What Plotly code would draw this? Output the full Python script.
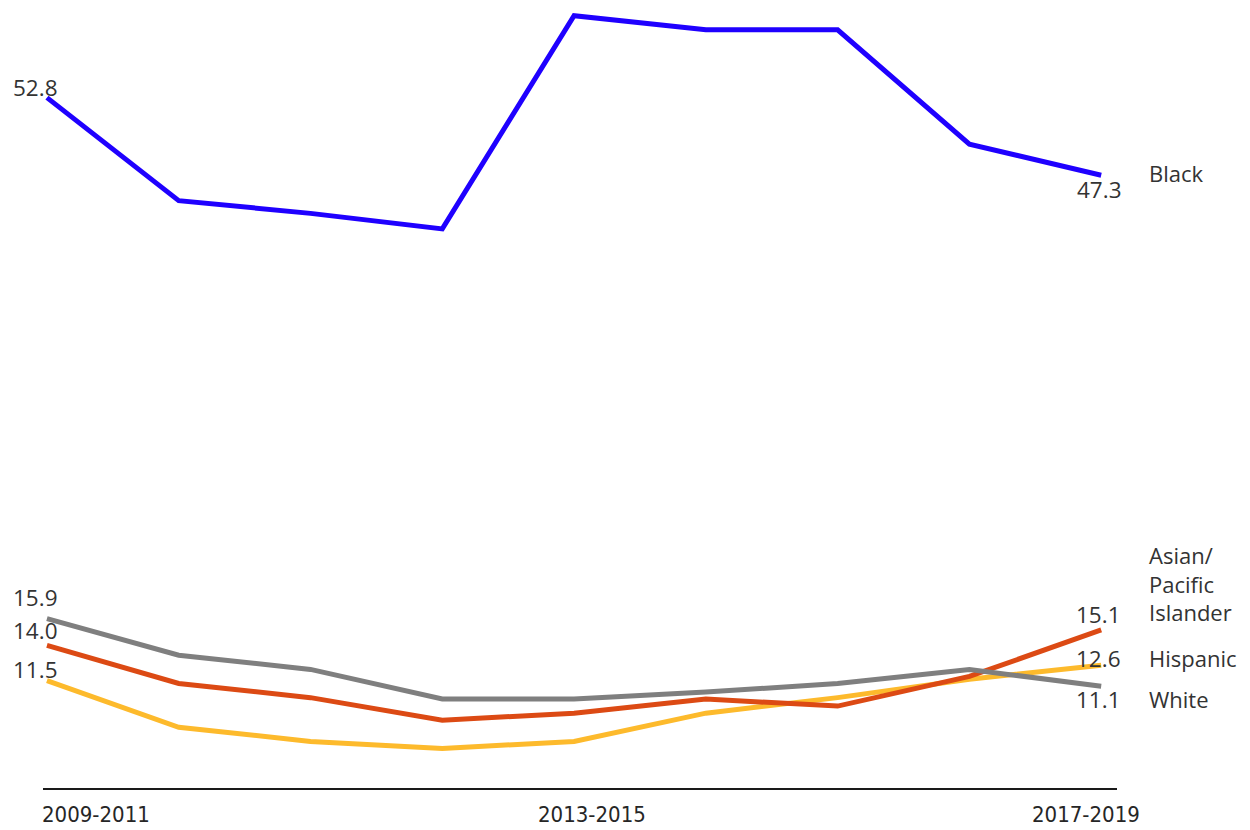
import plotly.graph_objects as go

periods = ["2009-2011", "2010-2012", "2011-2013", "2012-2014", "2013-2015",
           "2014-2016", "2015-2017", "2016-2018", "2017-2019"]
tick_labels = ["2009-2011", "2013-2015", "2017-2019"]

black = [52.8, 45.5, 44.6, 43.5, 58.6, 57.6, 57.6, 49.5, 47.3]
asian_pi = [14.0, 11.3, 10.3, 8.7, 9.2, 10.2, 9.7, 11.8, 15.1]
hispanic = [11.5, 8.2, 7.2, 6.7, 7.2, 9.2, 10.3, 11.6, 12.6]
white = [15.9, 13.3, 12.3, 10.2, 10.2, 10.7, 11.3, 12.3, 11.1]

series = [
    ("Black", black, "#1f00ff"),
    ("Asian/<br>Pacific<br>Islander", asian_pi, "#dc4a14"),
    ("Hispanic", hispanic, "#fdba2c"),
    ("White", white, "#7f7f7f"),
]

TXT = "#333333"
FONT = "Open Sans"

fig = go.Figure()
# draw order: black, hispanic (yellow), asian (red), white (gray)
for name, vals, col in [series[0], series[2], series[1], series[3]]:
    fig.add_trace(go.Scatter(x=periods, y=vals, mode="lines", name=name,
                             line=dict(color=col, width=5), hoverinfo="skip"))

# label offsets (pixels): left value label yshift, right value yshift, name yshift
offsets = {
    "Black": dict(ly=10, ry=-14, ny=2, right_center=True),
    "Asian/<br>Pacific<br>Islander": dict(ly=15, ry=15, ny=46),
    "Hispanic": dict(ly=11, ry=7, ny=7),
    "White": dict(ly=21, ry=-13, ny=-13),
}

ann = []
for name, vals, col in series:
    o = offsets[name]
    ann.append(dict(x=periods[0], y=vals[0], text=f"{vals[0]:.1f}", showarrow=False,
                    xanchor="left", yanchor="middle", xshift=-36, yshift=o["ly"],
                    font=dict(family=FONT, size=22.5, color=TXT)))
    if o.get("right_center"):
        ann.append(dict(x=periods[-1], y=vals[-1], text=f"{vals[-1]:.1f}", showarrow=False,
                        xanchor="center", yanchor="middle", xshift=-2, yshift=o["ry"],
                        font=dict(family=FONT, size=22.5, color=TXT)))
    else:
        ann.append(dict(x=periods[-1], y=vals[-1], text=f"{vals[-1]:.1f}", showarrow=False,
                        xanchor="right", yanchor="middle", xshift=22, yshift=o["ry"],
                        font=dict(family=FONT, size=22.5, color=TXT)))
    ann.append(dict(x=periods[-1], y=vals[-1], text=name, showarrow=False,
                    xanchor="left", yanchor="middle", xshift=46, yshift=o["ny"], align="left",
                    font=dict(family=FONT, size=22, color=TXT)))

tick_shift = {"2009-2011": 49, "2013-2015": 18, "2017-2019": -15}
for t in tick_labels:
    ann.append(dict(x=t, y=0, yref="paper", text=t, showarrow=False,
                    xanchor="center", yanchor="top", xshift=tick_shift[t], yshift=-12,
                    font=dict(family="DejaVu Sans Condensed", size=22, color="#262626")))

fig.update_layout(
    width=1250, height=830,
    margin=dict(l=43, r=133, t=3, b=42),
    paper_bgcolor="white", plot_bgcolor="white",
    showlegend=False,
    annotations=ann,
    xaxis=dict(type="category", range=[-0.03, 8.12], showgrid=False, zeroline=False,
               showticklabels=False, ticks="", showline=True, linecolor="#1a1a1a",
               linewidth=2),
    yaxis=dict(range=[3.9, 59.5], showgrid=False, zeroline=False,
               showticklabels=False, ticks="", showline=False),
)

fig.write_html("out.html", config={"displayModeBar": False},
               post_script="document.body.style.margin='0';document.body.style.overflow='hidden';")
